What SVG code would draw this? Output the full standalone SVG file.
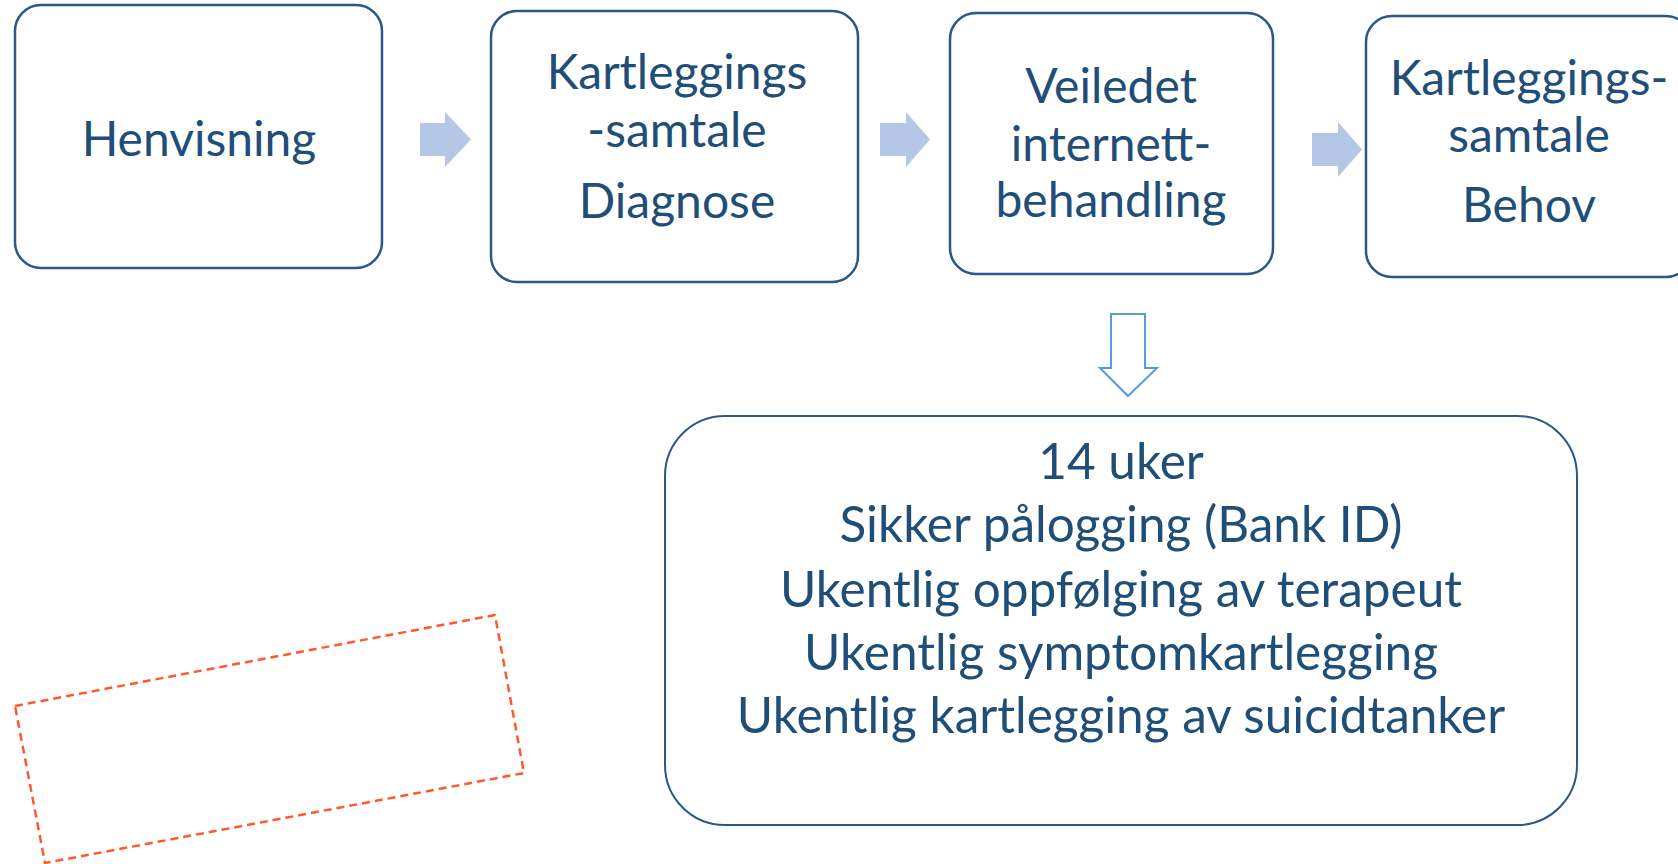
<svg xmlns="http://www.w3.org/2000/svg" width="1678" height="864" viewBox="0 0 1678 864">
  <style>
    .box { fill: #ffffff; stroke: #2B5888; stroke-width: 2.5; }
    .big { fill: #ffffff; stroke: #2B5888; stroke-width: 2; }
    .t { font-family: Lato, "Open Sans", "Liberation Sans", sans-serif; font-size: 48px; fill: #1F4E79; text-anchor: middle; }
    .tb { font-size: 49.5px; }
    .arr { fill: #B4C7E7; stroke: none; }
    .down { fill: #ffffff; stroke: #5B9BD5; stroke-width: 2; }
    .dash { fill: none; stroke: #FF5A2E; stroke-width: 2.5; stroke-dasharray: 8 5; stroke-linejoin: round; }
  </style>
  <rect width="1678" height="864" fill="#ffffff"/>
  <g id="connectors">
    <polygon class="arr" points="420,123 445,123 445,112 471,139.5 445,167 445,156 420,156"/>
    <polygon class="arr" points="880,123 906,123 906,112 930,139.5 906,167 906,156 880,156"/>
    <polygon class="arr" points="1312,133 1338,133 1338,122 1362,149.5 1338,177 1338,166 1312,166"/>
    <polygon class="down" points="1111,314 1145,314 1145,368 1157,368 1128,396 1100,368 1111,368"/>
  </g>
  <g id="node-henvisning">
    <rect class="box" x="15" y="5" width="367" height="263" rx="26" ry="26"/>
    <text class="t" x="199" y="156">Henvisning</text>
  </g>
  <g id="node-kartlegging-diagnose">
    <rect class="box" x="491" y="11" width="367" height="271" rx="26" ry="26"/>
    <text class="t" x="677" y="89">Kartleggings</text>
    <text class="t" x="677" y="147">-samtale</text>
    <text class="t" x="677" y="218">Diagnose</text>
  </g>
  <g id="node-veiledet">
    <rect class="box" x="950" y="13" width="323" height="261" rx="26" ry="26"/>
    <text class="t" x="1111" y="103">Veiledet</text>
    <text class="t" x="1111" y="161">internett-</text>
    <text class="t" x="1111" y="217">behandling</text>
  </g>
  <g id="node-kartlegging-behov">
    <rect class="box" x="1366" y="16" width="326" height="261" rx="26" ry="26"/>
    <text class="t" x="1529" y="95">Kartleggings-</text>
    <text class="t" x="1529" y="152">samtale</text>
    <text class="t" x="1529" y="222">Behov</text>
  </g>
  <g id="node-detaljer">
    <rect class="big" x="665" y="416" width="912" height="409" rx="60" ry="60"/>
    <text class="t tb" x="1121" y="479">14 uker</text>
    <text class="t tb" x="1121" y="542">Sikker pålogging (Bank ID)</text>
    <text class="t tb" x="1121" y="607">Ukentlig oppfølging av terapeut</text>
    <text class="t tb" x="1121" y="670">Ukentlig symptomkartlegging</text>
    <text class="t tb" x="1121" y="733">Ukentlig kartlegging av suicidtanker</text>
  </g>
  <g id="dashed-frame">
    <polygon class="dash" points="15,706 495,615 524,773 45,863"/>
  </g>
</svg>
